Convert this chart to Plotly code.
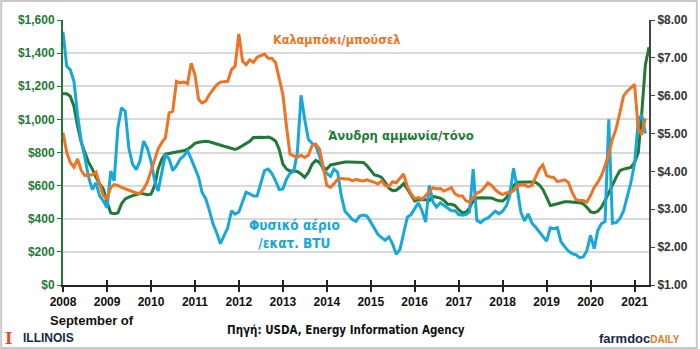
import plotly.graph_objects as go
import pandas as pd

# Monthly series, Jan 2008 onward
corn = [5.03, 4.50, 4.24, 4.11, 4.33, 4.02, 3.89, 3.89, 3.91, 3.98,
        3.63, 3.36, 3.28, 3.58, 3.65, 3.63, 3.58, 3.54, 3.49, 3.47,
        3.43, 3.41, 3.54, 3.71, 4.02, 4.28, 4.59, 4.76, 4.89, 5.55,
        5.59, 6.38, 6.34, 6.36, 6.32, 6.86, 6.56, 5.90, 5.81, 5.86,
        6.03, 6.16, 6.29, 6.36, 6.37, 6.38, 6.69, 6.78, 7.63, 6.91,
        6.82, 6.95, 6.88, 7.02, 7.06, 7.10, 6.99, 6.99, 6.88, 6.47,
        6.03, 5.16, 4.46, 4.41, 4.37, 4.43, 4.37, 4.43, 4.68, 4.72,
        4.59, 4.15, 3.63, 3.58, 3.67, 3.80, 3.82, 3.80, 3.80, 3.75,
        3.79, 3.76, 3.75, 3.78, 3.75, 3.71, 3.67, 3.75, 3.63, 3.60,
        3.73, 3.70, 3.82, 3.93, 3.60, 3.41, 3.28, 3.31, 3.26, 3.36,
        3.47, 3.57, 3.54, 3.55, 3.48, 3.52, 3.57, 3.41, 3.35, 3.35,
        3.23, 3.19, 3.32, 3.43, 3.47, 3.57, 3.70, 3.63, 3.52, 3.44,
        3.39, 3.44, 3.44, 3.49, 3.60, 3.65, 3.64, 3.60, 3.63, 3.84,
        4.06, 4.17, 3.89, 3.85, 3.84, 3.73, 3.75, 3.78, 3.71, 3.45,
        3.26, 3.23, 3.23, 3.19, 3.36, 3.58, 3.71, 3.89, 4.15, 4.46,
        4.85, 5.13, 5.55, 5.99, 6.12, 6.22, 6.30, 5.12, 4.97, 5.40]

gas = [7.69, 6.78, 6.69, 6.38, 5.50, 4.80, 4.36, 3.84, 3.52, 3.70,
       3.35, 3.22, 3.04, 4.01, 3.75, 5.15, 5.68, 5.59, 4.62, 4.19,
       4.05, 4.27, 4.80, 4.62, 4.27, 3.75, 3.48, 4.01, 4.45, 4.33,
       4.02, 4.15, 4.33, 4.41, 4.54, 4.33, 4.06, 3.84, 3.45, 3.28,
       2.97, 2.61, 2.38, 2.09, 2.31, 2.51, 2.96, 2.87, 2.93, 3.23,
       3.45, 3.41, 3.35, 3.35, 3.71, 4.02, 4.06, 3.95, 3.76, 3.52,
       3.54, 3.80, 3.95, 4.00, 4.50, 6.01, 5.38, 4.85, 4.74, 4.68,
       4.41, 4.06, 3.95, 3.87, 4.06, 3.98, 3.36, 2.95, 2.84, 2.73,
       2.68, 2.82, 2.85, 2.82, 2.66, 2.51, 2.34, 2.25, 2.18, 2.27,
       2.09, 1.81, 1.94, 2.36, 2.79, 2.86, 3.03, 3.17, 2.97, 2.66,
       3.63, 3.19, 3.06, 3.17, 3.10, 3.04, 2.96, 2.96, 2.86, 2.84,
       2.86, 2.93, 4.06, 2.71, 2.65, 2.73, 2.77, 2.86, 2.95, 2.88,
       2.95, 3.09, 3.36, 4.08, 3.58, 2.93, 2.69, 2.88, 2.64, 2.53,
       2.40, 2.30, 2.16, 2.51, 2.49, 2.51, 2.14, 2.01, 1.90, 1.83,
       1.80, 1.72, 1.74, 1.90, 2.31, 1.96, 2.44, 2.62, 2.68, 5.38,
       2.63, 2.65, 2.75, 2.95, 3.30, 3.70, 4.20, 5.35, 5.50, 5.00]

ammonia = [1155, 1155, 1140, 1080, 960, 860, 800, 740, 700, 650,
           610, 580, 500, 435, 430, 435, 490, 520, 530, 540,
           545, 555, 550, 545, 548, 600, 700, 760, 790, 795,
           800, 805, 808, 810, 820, 835, 855, 862, 865, 868,
           865, 858, 848, 842, 838, 832, 825, 818, 828, 840,
           855, 868, 890, 892, 892, 890, 893, 885, 870, 820,
           730, 700, 688, 688, 685, 670, 650, 680, 730, 752,
           740, 705, 700, 725, 730, 735, 740, 742, 742, 742,
           742, 742, 740, 720, 690, 665, 660, 650, 620, 585,
           570, 572, 590, 612, 580, 545, 507, 515, 517, 515,
           510, 535, 530, 525, 510, 487, 487, 480, 455, 435,
           440, 465, 510, 525, 527, 527, 527, 525, 515, 508,
           507, 527, 565, 600, 620, 622, 622, 622, 622, 620,
           605, 577, 530, 480, 485, 492, 497, 502, 503, 502,
           500, 497, 490, 470, 442, 437, 445, 470, 510, 560,
           600, 650, 690, 700, 705, 710, 740, 800, 1030, 1330,
           1435]

dates = pd.date_range("2008-01-01", periods=len(ammonia), freq="MS")

ORANGE = "#EE7424"
GREEN = "#1F7A36"
BLUE = "#17A7DB"
NAVY = "#13294B"
BOLD = "Liberation Sans"
NARROW = "Liberation Sans Narrow, DejaVu Sans Condensed, Arial Narrow, sans-serif"

fig = go.Figure()
fig.add_trace(go.Scatter(x=dates[:len(gas)], y=gas, mode="lines", yaxis="y2",
                         line=dict(color=BLUE, width=3), name="Φυσικό αέριο"))
fig.add_trace(go.Scatter(x=dates, y=ammonia, mode="lines", yaxis="y",
                         line=dict(color=GREEN, width=3), name="Άνυδρη αμμωνία"))
fig.add_trace(go.Scatter(x=dates[:len(corn)], y=corn, mode="lines", yaxis="y2",
                         line=dict(color=ORANGE, width=3), name="Καλαμπόκι"))
# empty trace to carry the inner tick marks axis
fig.add_trace(go.Scatter(x=[], y=[], xaxis="x2", yaxis="y", showlegend=False, hoverinfo="skip"))

xr = ["2008-01-01", "2021-05-01"]
fig.update_layout(
    width=700, height=349,
    margin=dict(l=63, r=49, t=20, b=64),
    paper_bgcolor="white", plot_bgcolor="white",
    showlegend=False,
    xaxis=dict(type="date", range=xr, tick0="2008-01-01", dtick="M12", tickformat="%Y",
               showgrid=False, showline=True, linecolor="#222222", linewidth=2,
               ticks="outside", ticklen=5, tickwidth=1.5, tickcolor="#222222",
               tickfont=dict(family=BOLD, size=12, color="#111111", weight="bold"),
               zeroline=False),
    xaxis2=dict(type="date", range=xr, tick0="2008-01-01", dtick="M12", overlaying="x",
                anchor="y", side="bottom", showgrid=False, showline=False,
                ticks="inside", ticklen=5, tickwidth=1.5, tickcolor="#222222",
                showticklabels=False, zeroline=False),
    yaxis=dict(range=[0, 1600], dtick=200, tickprefix="$", tickformat=",",
               showgrid=True, gridcolor="#d9d9d9", gridwidth=2,
               showline=True, linecolor=GREEN, linewidth=2,
               ticks="outside", ticklen=4, tickcolor=GREEN,
               tickfont=dict(family=BOLD, size=12, color=GREEN, weight="bold"),
               zeroline=False),
    yaxis2=dict(range=[1, 8], dtick=1, tickprefix="$", tickformat=".2f",
                overlaying="y", side="right", showgrid=False,
                showline=True, linecolor="#444444", linewidth=2,
                ticks="outside", ticklen=4, tickcolor="#444444",
                tickfont=dict(family=BOLD, size=12, color="#333333", weight="bold"),
                zeroline=False),
)

def px(x):
    return (x - 63) / 588

def py(y):
    return (285 - y) / 265

ann = [
    dict(text="Καλαμπόκι/μπούσελ", x=px(337), y=py(39), color=ORANGE, size=12.5, fam=NARROW),
    dict(text="Άνυδρη αμμωνία/τόνο", x=px(402), y=py(135), color=GREEN, size=13, fam=NARROW),
    dict(text="Φυσικό αέριο<br>/εκατ. BTU", x=px(295), y=py(234), color=BLUE, size=13.5, fam=NARROW),
    dict(text="September of", x=px(92), y=py(320), color="#111111", size=13, fam=BOLD),
    dict(text="Πηγή: USDA, Energy Information Agency", x=px(347), y=py(330), color="#111111", size=11.5, fam=NARROW),
    dict(text="ILLINOIS", x=px(48), y=py(338), color=NAVY, size=12, fam=BOLD),
    dict(text="I", x=px(8), y=py(338), color="#E84A27", size=16, fam="DejaVu Serif"),
    dict(text="farmdoc<span style='font-size:10px;color:#E87722'>DAILY</span>", x=px(641), y=py(338),
         color=NAVY, size=13, fam=BOLD),
]
for a in ann:
    fig.add_annotation(text=a["text"], x=a["x"], y=a["y"], xref="paper", yref="paper",
                       showarrow=False, xanchor="center", yanchor="middle", align="center",
                       font=dict(family=a["fam"], size=a["size"], color=a["color"], weight="bold"))

# light frame around the whole picture
fig.add_shape(type="rect", xref="paper", yref="paper",
              x0=px(1), x1=px(699), y0=py(348), y1=py(1),
              line=dict(color="#c8c8c8", width=2), fillcolor="rgba(0,0,0,0)", layer="below")

fig.write_html("out.html")
